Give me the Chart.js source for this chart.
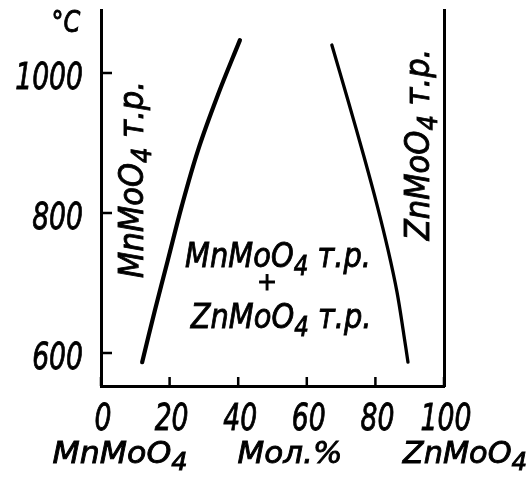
<!DOCTYPE html>
<html>
<head>
<meta charset="utf-8">
<script src="https://cdn.jsdelivr.net/npm/chart.js@4.4.1/dist/chart.umd.min.js"></script>
<style>
  html, body { margin: 0; padding: 0; background: #fff; }
  #wrap { width: 532px; height: 479px; }
</style>
</head>
<body>
<div id="wrap"><canvas id="diagram"></canvas></div>
<script>
// Диаграмма состояния системы MnMoO4 - ZnMoO4
var molPercent = [0, 20, 40, 60, 80, 100];
var tempTicks = [600, 800, 1000];

// граница твёрдого раствора на основе MnMoO4
var mnBorderX = [12.0, 15.7, 19.5, 23.6, 28.3, 34.1, 40.5];
var mnBorderT = [587, 661, 733, 811, 890, 969, 1047];

// граница твёрдого раствора на основе ZnMoO4
var znBorderX = [67.3, 72.0, 76.7, 80.5, 83.7, 86.3, 88.3, 89.5];
var znBorderT = [1040, 961, 880, 811, 747, 687, 626, 587];

var FAMILY = "'DejaVu Sans', sans-serif";

function toPoints(xs, ts) {
  return xs.map(function (x, i) { return { x: x, y: ts[i] }; });
}

// строка из частей: обычный текст и нижние индексы {sub: '4'}
function richWidth(ctx, parts, size) {
  var w = 0;
  parts.forEach(function (p) {
    if (typeof p === 'string') {
      ctx.font = 'italic ' + size + 'px ' + FAMILY;
      w += ctx.measureText(p).width;
    } else {
      ctx.font = 'italic ' + Math.round(size * 0.8) + 'px ' + FAMILY;
      w += ctx.measureText(p.sub).width;
    }
  });
  return w;
}

function fillBold(ctx, str, x, y) {
  ctx.fillText(str, x, y);
  ctx.strokeText(str, x, y);
}

// x, y - центр строки по горизонтали и базовая линия
function putText(ctx, parts, x, y, size, sx, angle) {
  if (typeof parts === 'string') parts = [parts];
  ctx.save();
  ctx.translate(x, y);
  if (angle) ctx.rotate(angle);
  ctx.scale(sx, 1);
  ctx.textAlign = 'left';
  ctx.textBaseline = 'alphabetic';
  ctx.lineWidth = 0.9;
  ctx.strokeStyle = '#000';
  var cx = -richWidth(ctx, parts, size) / 2;
  parts.forEach(function (p) {
    if (typeof p === 'string') {
      ctx.font = 'italic ' + size + 'px ' + FAMILY;
      fillBold(ctx, p, cx, 0);
      cx += ctx.measureText(p).width;
    } else {
      ctx.font = 'italic ' + Math.round(size * 0.8) + 'px ' + FAMILY;
      fillBold(ctx, p.sub, cx, size * 0.24);
      cx += ctx.measureText(p.sub).width;
    }
  });
  ctx.restore();
}

function putRight(ctx, str, x, y, size, sx) {
  ctx.save();
  ctx.translate(x, y);
  ctx.scale(sx, 1);
  ctx.font = 'italic ' + size + 'px ' + FAMILY;
  ctx.textAlign = 'right';
  ctx.textBaseline = 'alphabetic';
  ctx.lineWidth = 0.9;
  ctx.strokeStyle = '#000';
  fillBold(ctx, str, 0, 0);
  ctx.restore();
}

var MN = ['MnMoO', { sub: '4' }];
var ZN = ['ZnMoO', { sub: '4' }];
var MN_SS = ['MnMoO', { sub: '4' }, ' т.р.'];
var ZN_SS = ['ZnMoO', { sub: '4' }, ' т.р.'];

var labelsPlugin = {
  id: 'labelsPlugin',
  afterDraw: function (chart) {
    var ctx = chart.ctx;
    var xs = chart.scales.x, ys = chart.scales.y;
    var area = chart.chartArea;
    ctx.save();

    // засечки направлены внутрь поля диаграммы
    ctx.strokeStyle = '#000';
    ctx.lineWidth = 2.5;
    ctx.beginPath();
    xs.ticks.forEach(function (t) {
      var px = xs.getPixelForValue(t.value);
      ctx.moveTo(px, area.bottom);
      ctx.lineTo(px, area.bottom - 9);
    });
    ys.ticks.forEach(function (t) {
      var py = ys.getPixelForValue(t.value);
      ctx.moveTo(area.left, py);
      ctx.lineTo(area.left + 11, py);
    });
    ctx.stroke();

    ctx.fillStyle = '#000';

    // подписи делений
    xs.ticks.forEach(function (t) {
      putText(ctx, String(t.value), xs.getPixelForValue(t.value) + 2, area.bottom + 44, 37, 0.72);
    });
    ys.ticks.forEach(function (t) {
      putRight(ctx, String(t.value), area.left - 18, ys.getPixelForValue(t.value) + 16, 37, 0.72);
    });

    putText(ctx, '°C', area.left - 35, area.top + 22, 30, 0.8);

    putText(ctx, MN_SS, area.left + 42, ys.getPixelForValue(848), 34, 0.9, -Math.PI / 2);
    putText(ctx, ZN_SS, xs.getPixelForValue(95.5), ys.getPixelForValue(898), 34, 0.9, -Math.PI / 2);

    putText(ctx, MN_SS, xs.getPixelForValue(51.6), ys.getPixelForValue(723), 34, 0.85);
    putText(ctx, '+', xs.getPixelForValue(48.4), ys.getPixelForValue(690), 24, 1);
    putText(ctx, ZN_SS, xs.getPixelForValue(52.5), ys.getPixelForValue(636), 34, 0.85);

    var rowY = area.bottom + 77;
    putText(ctx, MN, 120, rowY, 31, 1.02);
    putText(ctx, 'Мол.%', 290, rowY, 31, 1.0);
    putText(ctx, ZN, 465, rowY, 31, 0.98);

    ctx.restore();
  }
};

function borderLine(points, width) {
  return {
    data: points,
    showLine: true,
    borderColor: '#000',
    borderWidth: width,
    borderCapStyle: 'round',
    pointRadius: 0,
    tension: 0.35,
    fill: false
  };
}

new Chart(document.getElementById('diagram'), {
  type: 'scatter',
  data: {
    datasets: [
      borderLine(toPoints(mnBorderX, mnBorderT), 4.2),
      borderLine(toPoints(znBorderX, znBorderT), 3.3)
    ]
  },
  options: {
    responsive: true,
    maintainAspectRatio: false,
    animation: false,
    layout: { padding: { top: 10, left: 0, right: 0, bottom: 0 } },
    plugins: {
      legend: { display: false },
      tooltip: { enabled: false }
    },
    scales: {
      x: {
        type: 'linear',
        min: 0,
        max: 100,
        afterBuildTicks: function (axis) {
          axis.ticks = molPercent.map(function (v) { return { value: v }; });
        },
        afterFit: function (axis) { axis.height = 93; },
        grid: { display: false, drawTicks: false },
        border: { display: true, color: '#000', width: 3 },
        ticks: { display: false }
      },
      y: {
        type: 'linear',
        min: 553,
        max: 1090,
        afterBuildTicks: function (axis) {
          axis.ticks = tempTicks.map(function (v) { return { value: v }; });
        },
        afterFit: function (axis) { axis.width = 101; },
        grid: { display: false, drawTicks: false },
        border: { display: true, color: '#000', width: 3 },
        ticks: { display: false }
      },
      y2: {
        type: 'linear',
        position: 'right',
        min: 553,
        max: 1090,
        afterFit: function (axis) { axis.width = 88; },
        grid: { display: false, drawTicks: false },
        border: { display: true, color: '#000', width: 3 },
        ticks: { display: false }
      }
    }
  },
  plugins: [labelsPlugin]
});
</script>
</body>
</html>
